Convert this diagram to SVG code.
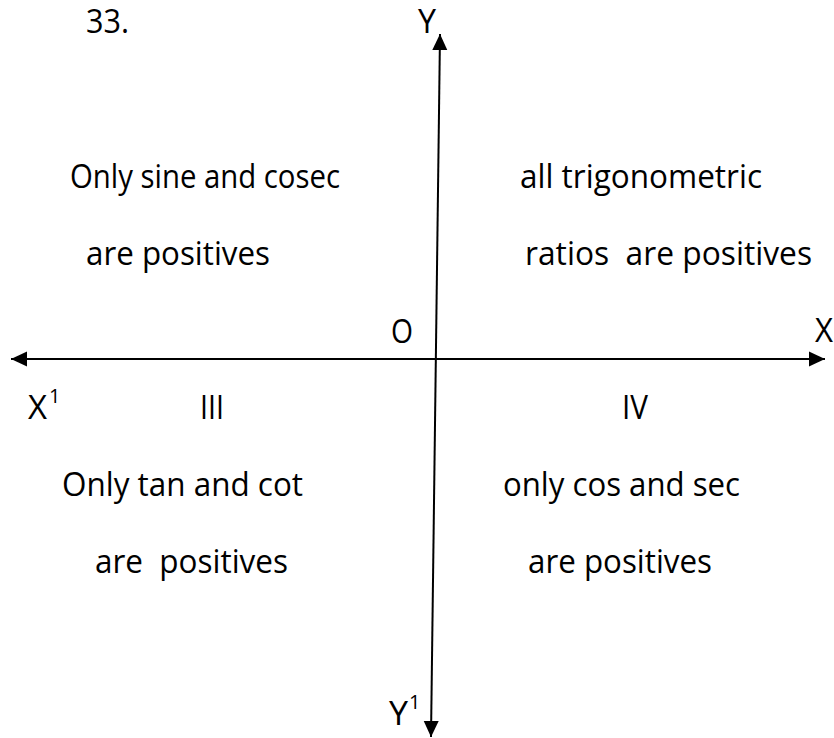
<svg xmlns="http://www.w3.org/2000/svg" width="834" height="738" viewBox="0 0 834 738">
  <style>
    text { font-family: "Open Sans", "Liberation Sans", Arial, sans-serif; font-size: 32px; fill: #000; }
    .sup { font-size: 20px; }
    .axis { stroke: #000; stroke-width: 2; fill: none; }
  </style>
  <defs>
    <marker id="arrow" markerUnits="userSpaceOnUse" markerWidth="16" markerHeight="16" refX="16" refY="7.5" orient="auto-start-reverse" viewBox="0 0 16 15">
      <path d="M0,0 L16,7.5 L0,15 z" fill="#000"/>
    </marker>
  </defs>
  <rect width="834" height="738" fill="#fff"/>

  <g id="connectors">
    <line id="x-axis" class="axis" x1="11" y1="359" x2="825" y2="359" marker-start="url(#arrow)" marker-end="url(#arrow)"/>
    <line id="y-axis" class="axis" x1="440" y1="34" x2="431" y2="737" marker-start="url(#arrow)" marker-end="url(#arrow)"/>
  </g>

  <g id="title"><text x="86" y="33" textLength="43" lengthAdjust="spacingAndGlyphs">33.</text></g>

  <g id="label-Y"><text x="418" y="33" textLength="18" lengthAdjust="spacingAndGlyphs">Y</text></g>
  <g id="label-X"><text x="815" y="342" textLength="18" lengthAdjust="spacingAndGlyphs">X</text></g>
  <g id="label-O"><text x="391" y="343" textLength="22" lengthAdjust="spacingAndGlyphs">O</text></g>
  <g id="label-X1"><text x="28" y="419" textLength="19" lengthAdjust="spacingAndGlyphs">X</text><text class="sup" x="49" y="403">1</text></g>
  <g id="label-Y1"><text x="389" y="725" textLength="19" lengthAdjust="spacingAndGlyphs">Y</text><text class="sup" x="409" y="709">1</text></g>

  <g id="quadrant-II">
    <text x="70" y="188" textLength="270" lengthAdjust="spacingAndGlyphs">Only sine and cosec</text>
    <text x="86" y="265" textLength="184" lengthAdjust="spacingAndGlyphs">are positives</text>
  </g>
  <g id="quadrant-I">
    <text x="520" y="188" textLength="242" lengthAdjust="spacingAndGlyphs">all trigonometric</text>
    <text x="525" y="265" textLength="287" lengthAdjust="spacingAndGlyphs" xml:space="preserve">ratios  are positives</text>
  </g>
  <g id="quadrant-III">
    <text x="200" y="419" textLength="24" lengthAdjust="spacingAndGlyphs">III</text>
    <text x="62" y="496" textLength="241" lengthAdjust="spacingAndGlyphs">Only tan and cot</text>
    <text x="95" y="573" textLength="193" lengthAdjust="spacingAndGlyphs" xml:space="preserve">are  positives</text>
  </g>
  <g id="quadrant-IV">
    <text x="622" y="419" textLength="26" lengthAdjust="spacingAndGlyphs">IV</text>
    <text x="503" y="496" textLength="237" lengthAdjust="spacingAndGlyphs">only cos and sec</text>
    <text x="528" y="573" textLength="184" lengthAdjust="spacingAndGlyphs">are positives</text>
  </g>
</svg>
